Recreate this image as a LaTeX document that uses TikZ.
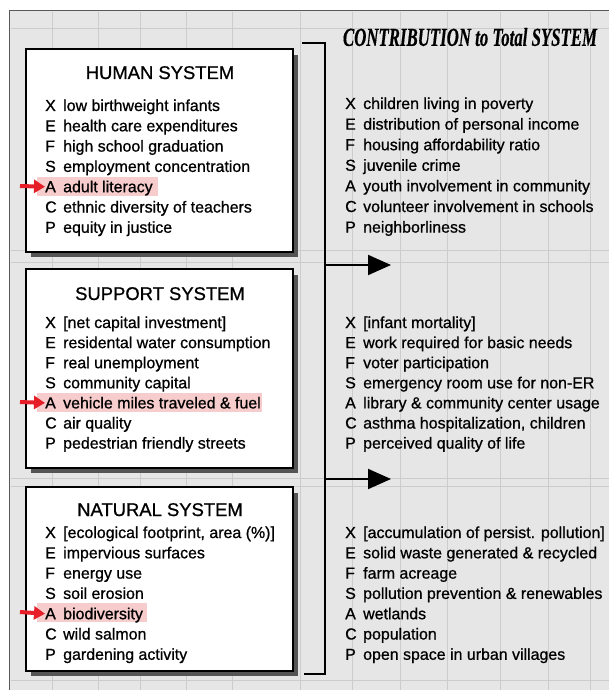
\documentclass[tikz,border=0pt]{standalone}
\usepackage{fontspec}
\setmainfont{Liberation Sans}[FakeBold=0.8]
\newfontfamily\titleserif{Liberation Serif}[FakeBold=0.6]
\usetikzlibrary{arrows.meta}
\definecolor{bgtex}{RGB}{230,230,230}
\definecolor{hilite}{RGB}{246,204,204}
\definecolor{redarrow}{RGB}{230,30,40}
\definecolor{shadowgray}{RGB}{85,85,85}
\begin{document}
\begin{tikzpicture}[x=1bp,y=-1bp,
  itemtext/.style={anchor=base west, inner sep=0pt, font=\fontsize{16}{16}\selectfont},
  boxtitle/.style={anchor=base, inner sep=0pt, font=\fontsize{18.5}{18.5}\selectfont},
  sysbox/.style={draw=black, line width=2.6bp, fill=white},
  sysshadow/.style={fill=shadowgray},
  hl/.style={fill=hilite},
  bracketline/.style={line width=2.4bp, line cap=rect},
  bigarrow/.style={line width=2bp, -{Triangle[length=23bp,width=20bp]}},
  redptr/.style={redarrow, line width=4bp, -{Triangle[length=11bp,width=13bp]}}
]
\useasboundingbox (0,0) rectangle (609,690);
% background
\fill[bgtex] (9,10) rectangle (609,690);
\draw[gray!70!black, line width=0.8bp] (609,10) -- (9,10) -- (9,690);
% faint grid texture
\foreach \gx in {52,98,140,186,232,300,352,400,447,500,548,590}
  \draw[gray!40, line width=0.3bp] (\gx,12) -- (\gx,690);
\foreach \gy in {28,250,262,478,486,680}
  \draw[gray!40, line width=0.3bp] (11,\gy) -- (609,\gy);

% title
\node[inner sep=0pt, anchor=center] (ctitle) at (470,37)
  {\resizebox{254bp}{18bp}{\titleserif\bfseries\itshape CONTRIBUTION to Total SYSTEM}};

% boxes with shadows
\fill[sysshadow] (31,55) rectangle (298,257);
\draw[sysbox] (26,49) rectangle (293,252);
\fill[sysshadow] (31,275) rectangle (298,473);
\draw[sysbox] (26,269) rectangle (293,468);
\fill[sysshadow] (31,493) rectangle (298,676);
\draw[sysbox] (26,487) rectangle (293,671);
\node[inner sep=0pt] (hbox) at (160,150) {};
\node[inner sep=0pt] (sbox) at (160,368) {};
\node[inner sep=0pt] (nbox) at (160,579) {};

% highlights
\fill[hl] (37,177) rectangle (158,196);
\fill[hl] (37,393) rectangle (262,412);
\fill[hl] (37,603) rectangle (147,622);

% box titles
\node[boxtitle] (htitle) at (160,79) {HUMAN SYSTEM};
\node[boxtitle] (stitle) at (160,300) {SUPPORT SYSTEM};
\node[boxtitle] (ntitle) at (160,516) {NATURAL SYSTEM};

% human items
\foreach \l/\t [count=\i from 0] in {X/low birthweight infants, E/health care expenditures, F/high school graduation, S/employment concentration, A/adult literacy, C/ethnic diversity of teachers, P/equity in justice}{
  \node[itemtext] (hL\i) at (45,111+\i*20.3) {\l};
  \node[itemtext] (hT\i) at (63,111+\i*20.3) {\t};
}
% support items
\foreach \l/\t [count=\i from 0] in {X/{[net capital investment]}, E/residental water consumption, F/real unemployment, S/community capital, A/{vehicle miles traveled \& fuel}, C/air quality, P/pedestrian friendly streets}{
  \node[itemtext] (sL\i) at (45,328+\i*20.1) {\l};
  \node[itemtext] (sT\i) at (63,328+\i*20.1) {\t};
}
% natural items
\foreach \l/\t [count=\i from 0] in {X/{[ecological footprint, area (\%)]}, E/impervious surfaces, F/energy use, S/soil erosion, A/biodiversity, C/wild salmon, P/gardening activity}{
  \node[itemtext] (nL\i) at (45,538+\i*20.3) {\l};
  \node[itemtext] (nT\i) at (63,538+\i*20.3) {\t};
}
% right column, human
\foreach \l/\t [count=\i from 0] in {X/children living in poverty, E/distribution of personal income, F/housing affordability ratio, S/juvenile crime, A/youth involvement in community, C/volunteer involvement in schools, P/neighborliness}{
  \node[itemtext] (rhL\i) at (345,109+\i*20.6) {\l};
  \node[itemtext] (rhT\i) at (363,109+\i*20.6) {\t};
}
% right column, support
\foreach \l/\t [count=\i from 0] in {X/{[infant mortality]}, E/work required for basic needs, F/voter participation, S/emergency room use for non-ER, A/{library \& community center usage}, C/{asthma hospitalization, children}, P/perceived quality of life}{
  \node[itemtext] (rsL\i) at (345,328+\i*20.1) {\l};
  \node[itemtext] (rsT\i) at (363,328+\i*20.1) {\t};
}
% right column, natural
\foreach \l/\t [count=\i from 0] in {X/{[accumulation of persist. pollution]}, E/{solid waste generated \& recycled}, F/farm acreage, S/{pollution prevention \& renewables}, A/wetlands, C/population, P/open space in urban villages}{
  \node[itemtext] (rnL\i) at (345,538+\i*20.3) {\l};
  \node[itemtext] (rnT\i) at (363,538+\i*20.3) {\t};
}

% red pointers
\coordinate (rp1) at (20,186);
\coordinate (rp2) at (20,402);
\coordinate (rp3) at (20,612);
\draw[redptr] (rp1) -- (hL4.west);
\draw[redptr] (rp2) -- (sL4.west);
\draw[redptr] (rp3) -- (nL4.west);

% bracket
\coordinate (bt0) at (303,43);
\coordinate (bt1) at (325,43);
\coordinate (bb1) at (325,674);
\coordinate (bb0) at (305,674);
\draw[bracketline] (bt0) -- (bt1) -- (bb1) -- (bb0);
\coordinate (a1s) at (325,265);
\coordinate (a1e) at (391,265);
\coordinate (a2s) at (325,479);
\coordinate (a2e) at (391,479);
\draw[bigarrow] (a1s) -- (a1e);
\draw[bigarrow] (a2s) -- (a2e);
\end{tikzpicture}
\end{document}
